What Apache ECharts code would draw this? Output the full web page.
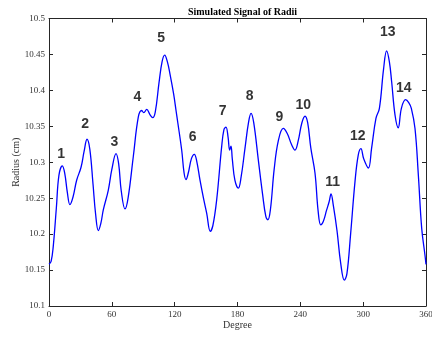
<!DOCTYPE html>
<html>
<head>
<meta charset="utf-8">
<script src="https://cdn.jsdelivr.net/npm/echarts@6/dist/echarts.min.js"></script>
<style>
  html, body { margin: 0; padding: 0; background: #fff; }
  #chart { width: 432px; height: 337px; }
</style>
</head>
<body>
<div id="chart"></div>
<script>
// Radius signal sampled around the profile (degrees, cm)
const degrees = [
  0, 2, 4, 7, 9.5, 12.7, 15, 17.5, 20, 23, 26.4, 30.6, 33.5, 36.3, 39, 42, 44.5, 47.1, 49.5, 51.9,
  56.6, 60, 64, 66.5, 69, 72.6, 75.5, 80.5, 85.3, 88.5, 90.5, 93.3, 96.5, 99, 101.5, 105, 108, 110.5,
  113, 115.5, 119, 121.3, 123, 126.7, 129, 130.8, 133, 136, 138.8, 141, 144.2, 147.5, 150.6, 154,
  156.5, 160.1, 164.9, 167, 169, 171, 172.5, 173.8, 175, 177.5, 180.8, 183.5, 187.2, 190.5, 192.9,
  195.5, 199.9, 204, 207, 209, 211.5, 215, 219, 223.7, 227.5, 231.5, 234.9, 238, 241.5, 244.5, 247,
  250, 254, 257, 259.5, 262, 265, 267.5, 269.3, 271.5, 275, 278.5, 282, 284.5, 288, 292.2, 295.3,
  297.9, 300.5, 305, 308, 312.2, 315.5, 319.5, 322.4, 325, 327.2, 330.4, 333.5, 336.5, 340.5, 343.5,
  346, 349.5, 352.7, 355.9, 359, 360
];
const radii = [
  10.158, 10.162, 10.182, 10.236, 10.282, 10.295, 10.285, 10.258, 10.241, 10.252, 10.275, 10.293,
  10.315, 10.332, 10.318, 10.27, 10.228, 10.205, 10.215, 10.234, 10.261, 10.29, 10.312, 10.298,
  10.26, 10.235, 10.25, 10.308, 10.363, 10.372, 10.369, 10.3735, 10.366, 10.362, 10.37, 10.41,
  10.44, 10.449, 10.44, 10.423, 10.395, 10.372, 10.355, 10.317, 10.285, 10.276, 10.285, 10.305,
  10.311, 10.302, 10.275, 10.25, 10.229, 10.204, 10.212, 10.2475, 10.322, 10.345, 10.349, 10.335,
  10.317, 10.3225, 10.305, 10.275, 10.264, 10.28, 10.32, 10.355, 10.368, 10.355, 10.303, 10.255,
  10.225, 10.22, 10.235, 10.29, 10.33, 10.347, 10.34, 10.325, 10.317, 10.33, 10.355, 10.364, 10.355,
  10.32, 10.285, 10.232, 10.213, 10.218, 10.233, 10.245, 10.256, 10.24, 10.205, 10.16, 10.136,
  10.145, 10.2, 10.273, 10.31, 10.319, 10.305, 10.292, 10.319, 10.361, 10.375, 10.43, 10.455, 10.44,
  10.412, 10.366, 10.348, 10.375, 10.387, 10.383, 10.375, 10.347, 10.282, 10.208, 10.171, 10.158
];

// Peak numbering placed above each lobe (degree, radius)
const peakNames = ['1', '2', '3', '4', '5', '6', '7', '8', '9', '10', '11', '12', '13', '14'];
const peakDeg = [11.5, 34.4, 62.4, 84.3, 107.2, 137.2, 165.9, 191.6, 219.9, 242.9, 270.9, 294.8, 323.4, 338.7];
const peakRad = [10.311, 10.353, 10.328, 10.391, 10.473, 10.3345, 10.371, 10.392, 10.363, 10.38, 10.273, 10.336, 10.481, 10.403];

const xTicks = ['0', '60', '120', '180', '240', '300', '360'];
const yTicks = ['10.1', '10.15', '10.2', '10.25', '10.3', '10.35', '10.4', '10.45', '10.5'];

const SERIF = '"Liberation Serif", "DejaVu Serif", serif';
const SANS = '"Liberation Sans", Arial, sans-serif';
const axisInk = '#262626';

const chart = echarts.init(document.getElementById('chart'), null, { renderer: 'canvas' });

const lineData = degrees.map((d, i) => [d, radii[i]]);
const peakData = peakNames.map((n, i) => ({ name: n, value: [peakDeg[i], peakRad[i]] }));

const baseX = {
  type: 'value', min: 0, max: 360, interval: 60,
  axisLine: { onZero: false, lineStyle: { color: axisInk, width: 1 } },
  axisTick: { inside: true, length: 4, lineStyle: { color: axisInk } },
  splitLine: { show: false }
};
const baseY = {
  type: 'value', min: 10.1, max: 10.5, interval: 0.05,
  axisLine: { onZero: false, lineStyle: { color: axisInk, width: 1 } },
  axisTick: { inside: true, length: 4, lineStyle: { color: axisInk } },
  splitLine: { show: false }
};

chart.setOption({
  animation: false,
  backgroundColor: '#ffffff',
  title: {
    text: 'Simulated Signal of Radii',
    left: 237.5, top: 2, textAlign: 'center',
    textStyle: { fontFamily: SERIF, fontSize: 10, fontWeight: 'bold', color: '#000' }
  },
  grid: { left: 49, right: 6, top: 18.5, bottom: 31, containLabel: false, outerBoundsMode: 'none' },
  xAxis: [
    Object.assign({}, baseX, {
      position: 'bottom',
      name: 'Degree', nameLocation: 'middle', nameGap: 14, nameMoveOverlap: false,
      nameTextStyle: { fontFamily: SERIF, fontSize: 10, color: '#333' },
      axisLabel: {
        margin: 4, fontFamily: SERIF, fontSize: 9, color: '#333',
        formatter: v => xTicks[Math.round(v / 60)]
      }
    }),
    Object.assign({}, baseX, { position: 'top', axisLabel: { show: false } })
  ],
  yAxis: [
    Object.assign({}, baseY, {
      position: 'left',
      name: 'Radius (cm)', nameLocation: 'middle', nameGap: 28, nameMoveOverlap: false,
      nameTextStyle: { fontFamily: SERIF, fontSize: 10, color: '#333' },
      axisLabel: {
        margin: 4, fontFamily: SERIF, fontSize: 9, color: '#333',
        formatter: v => yTicks[Math.round((v - 10.1) / 0.05)]
      }
    }),
    Object.assign({}, baseY, { position: 'right', axisLabel: { show: false } })
  ],
  series: [
    {
      type: 'line',
      data: lineData,
      xAxisIndex: 0, yAxisIndex: 0,
      showSymbol: false,
      smooth: 0.4,
      lineStyle: { color: '#0000ff', width: 1.3 },
      z: 3
    },
    {
      type: 'scatter',
      data: peakData,
      xAxisIndex: 0, yAxisIndex: 0,
      symbolSize: 1,
      itemStyle: { color: 'rgba(0,0,0,0)' },
      label: {
        show: true, position: 'inside',
        formatter: p => p.name,
        fontFamily: SANS, fontSize: 14, fontWeight: 'bold', color: '#000'
      },
      z: 4
    }
  ]
});
</script>
</body>
</html>
